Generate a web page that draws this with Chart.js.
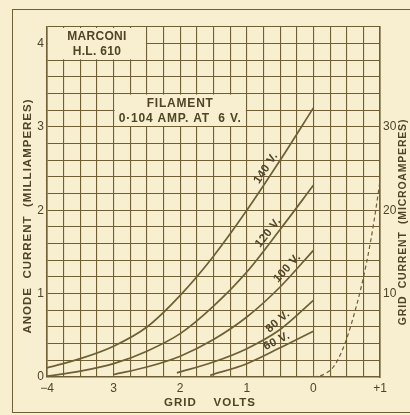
<!doctype html>
<html lang="en">
<head>
  <meta charset="utf-8">
  <title>Marconi H.L. 610 characteristics</title>
  <script src="https://cdn.jsdelivr.net/npm/chart.js"></script>
  <style>
    html, body { margin: 0; padding: 0; background: #f7efcf; overflow: hidden; }
    #wrap { position: relative; width: 410px; height: 415px; }
    #frame {
      position: absolute; left: 12px; top: 9px; width: 420px; height: 402px;
      border: 1.5px solid #6e5f35; border-right: none;
    }
    canvas { position: absolute; left: 0; top: 0; }
  </style>
</head>
<body>
  <div id="wrap">
    <div id="frame"></div>
    <canvas id="chart" width="410" height="415"></canvas>
  </div>

  <script>
    // anode current (mA) against grid volts, one curve per anode voltage
    const gridVolts = [-4, -3.5, -3, -2.5, -2, -1.5, -1, -0.5, 0];
    const anode140  = [0.11, 0.22, 0.37, 0.60, 0.98, 1.45, 2.00, 2.60, 3.23];
    const anode120  = [0.01, 0.07, 0.16, 0.31, 0.52, 0.85, 1.26, 1.77, 2.30];
    const volts100  = [-3, -2.5, -2, -1.5, -1, -0.5, 0];
    const anode100  = [0.03, 0.12, 0.25, 0.45, 0.72, 1.08, 1.52];
    const volts80   = [-2.05, -1.5, -1, -0.5, 0];
    const anode80   = [0.05, 0.18, 0.34, 0.57, 0.92];
    const volts60   = [-1.55, -1, -0.5, 0];
    const anode60   = [0.02, 0.16, 0.35, 0.55];
    const curveNames = ['140 V.', '120 V.', '100 V.', '80 V.', '60 V.'];

    // grid current (microamps) for positive grid
    const positiveVolts = [0, 0.1, 0.2, 0.3, 0.4, 0.5, 0.6, 0.7, 0.8, 0.9, 1.0];
    const gridMicroamps = [0, 0.15, 0.5, 1.2, 2.6, 4.6, 7.2, 10.2, 13.8, 18.2, 23.5];

    // tick labels
    const voltTicks  = [-4, -3, -2, -1, 0, 1];
    const voltLabels = ['\u22124', '3', '2', '1', '0', '+1'];
    const mATicks    = [0, 1, 2, 3, 4];
    const uATicks    = [10, 20, 30];

    const ink   = '#6e5f35';
    const text  = '#4f4426';
    const paper = '#f7efcf';
    const face  = '"Liberation Sans", Arial, sans-serif';

    const pts = (xs, ys) => xs.map((x, i) => ({ x, y: ys[i] }));
    const near = (v, list) => list.find(t => Math.abs(v - t) < 1e-6);

    const curveData = [
      pts(gridVolts, anode140),
      pts(gridVolts, anode120),
      pts(volts100, anode100),
      pts(volts80, anode80),
      pts(volts60, anode60)
    ];
    // where along each curve its label sits (grid volts)
    const labelAt = [-0.62, -0.59, -0.31, -0.46, -0.5];

    function fillBox(ctx, x, y, x0, x1, y0, y1) {
      const l = x.getPixelForValue(x0), r = x.getPixelForValue(x1);
      const t = y.getPixelForValue(y1), b = y.getPixelForValue(y0);
      ctx.fillStyle = paper;
      ctx.fillRect(l + 1, t + 1, r - l - 2, b - t - 2);
      return { l, r, t, b };
    }

    function curveY(data, v) {
      for (let i = 1; i < data.length; i++) {
        if (v <= data[i].x) {
          const a = data[i - 1], b = data[i];
          return a.y + (b.y - a.y) * (v - a.x) / (b.x - a.x);
        }
      }
      return data[data.length - 1].y;
    }

    const extras = {
      id: 'extras',
      beforeDatasetsDraw(chart) {
        const { ctx, scales: { x, y } } = chart;
        ctx.save();
        ctx.textAlign = 'center';
        ctx.textBaseline = 'middle';

        let bx = fillBox(ctx, x, y, -4, -2.5, 3.8, 4.2);
        ctx.fillStyle = text;
        ctx.font = 'bold 12px ' + face;
        ctx.letterSpacing = '0.3px';
        ctx.fillText('MARCONI', (bx.l + bx.r) / 2, bx.t + 10);
        ctx.fillText('H.L. 610', (bx.l + bx.r) / 2, bx.t + 25);

        bx = fillBox(ctx, x, y, -3, -1, 3.0, 3.4);
        ctx.fillStyle = text;
        ctx.letterSpacing = '0.8px';
        ctx.fillText('FILAMENT', (bx.l + bx.r) / 2, bx.t + 10);
        ctx.fillText('0\u00b7104 AMP. AT  6 V.', (bx.l + bx.r) / 2, bx.t + 25);
        ctx.restore();
      },
      afterDatasetsDraw(chart) {
        const { ctx, scales: { x, y } } = chart;
        ctx.save();
        ctx.fillStyle = text;
        ctx.textAlign = 'center';
        ctx.textBaseline = 'middle';
        ctx.font = 'bold 11.5px ' + face;
        ctx.letterSpacing = '0.4px';

        curveData.forEach((data, i) => {
          const v = labelAt[i];
          const px = x.getPixelForValue(v);
          const py = y.getPixelForValue(curveY(data, v));
          const px2 = x.getPixelForValue(v + 0.1);
          const py2 = y.getPixelForValue(curveY(data, v + 0.1));
          const ang = Math.atan2(py2 - py, px2 - px);
          ctx.save();
          ctx.translate(px + 7.5 * Math.sin(ang), py - 7.5 * Math.cos(ang));
          ctx.rotate(ang);
          ctx.fillText(curveNames[i], 0, 0);
          ctx.restore();
        });

        // axis titles
        ctx.font = 'bold 11.5px ' + face;
        ctx.letterSpacing = '1px';
        ctx.save();
        ctx.translate(28, 216);
        ctx.rotate(-Math.PI / 2);
        ctx.fillText('ANODE  CURRENT  (MILLIAMPERES)', 0, 0);
        ctx.restore();
        ctx.font = 'bold 10.5px ' + face;
        ctx.letterSpacing = '0.8px';
        ctx.save();
        ctx.translate(403, 222);
        ctx.rotate(-Math.PI / 2);
        ctx.fillText('GRID  CURRENT  (MICROAMPERES)', 0, 0);
        ctx.restore();
        ctx.font = 'bold 11.5px ' + face;
        ctx.letterSpacing = '1px';
        ctx.fillText('GRID    VOLTS', 210, 403);
        ctx.restore();
      }
    };

    const lineStyle = {
      borderColor: ink, borderWidth: 1.7, pointRadius: 0,
      cubicInterpolationMode: 'monotone', fill: false
    };
    const tickFont = { family: face, size: 12 };

    new Chart(document.getElementById('chart'), {
      type: 'line',
      data: {
        datasets: curveData.map((d, i) => ({
          label: curveNames[i], data: d, yAxisID: 'y', ...lineStyle
        })).concat([{
          label: 'grid current', data: pts(positiveVolts, gridMicroamps),
          yAxisID: 'y2', ...lineStyle, borderWidth: 1.2, borderDash: [4, 3]
        }])
      },
      options: {
        responsive: false,
        animation: false,
        events: [],
        layout: { padding: { top: 27, left: 0, right: 0, bottom: 0 } },
        plugins: { legend: { display: false }, tooltip: { enabled: false } },
        scales: {
          x: {
            type: 'linear', min: -4, max: 1,
            afterFit: s => { s.height = 38; },
            grid: { color: ink, lineWidth: 1.1, drawTicks: false },
            border: { color: ink, width: 1.6 },
            ticks: {
              stepSize: 0.25, autoSkip: false, maxRotation: 0, padding: 4,
              color: text, font: tickFont,
              callback: v => {
                const t = near(v, voltTicks);
                return t === undefined ? '' : voltLabels[voltTicks.indexOf(t)];
              }
            }
          },
          y: {
            position: 'left', min: 0, max: 4.2,
            afterFit: s => { s.width = 47; },
            grid: { color: ink, lineWidth: 1.1, drawTicks: false },
            border: { color: ink, width: 1.6 },
            ticks: {
              stepSize: 0.2, autoSkip: false, padding: 3,
              color: text, font: tickFont,
              callback: v => {
                const t = near(v, mATicks);
                return t === undefined ? '' : String(t);
              }
            }
          },
          y2: {
            position: 'right', min: 0, max: 42,
            afterFit: s => { s.width = 30; },
            grid: { drawOnChartArea: false, drawTicks: false },
            border: { color: ink, width: 1.6 },
            ticks: {
              stepSize: 2, autoSkip: false, padding: 3,
              color: text, font: tickFont,
              callback: v => {
                const t = near(v, uATicks);
                return t === undefined ? '' : String(t);
              }
            }
          }
        }
      },
      plugins: [extras]
    });
  </script>
</body>
</html>
